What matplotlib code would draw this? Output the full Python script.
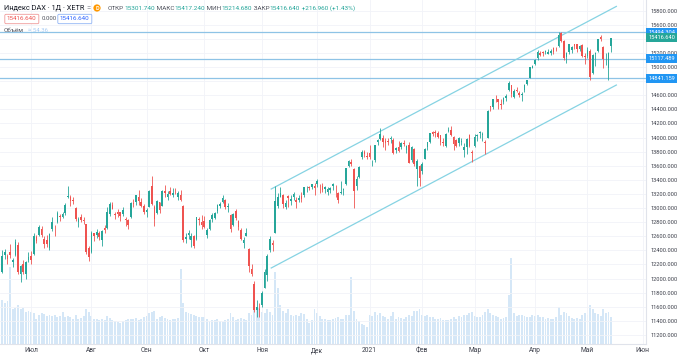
import matplotlib.pyplot as plt
import pandas as pd
from matplotlib.transforms import blended_transform_factory

plt.rcParams['font.family'] = ['Roboto', 'DejaVu Sans']

# daily DAX candles, 16 Jun 2020 .. 14 May 2021
opens = [
    # Jun
    12100, 12330, 12320, 12370, 12240, 12330, 12480, 12070, 12210, 12060, 12270,
    # Jul
    12320, 12350, 12590, 12620, 12700, 12560, 12540, 12440, 12700, 12700, 12800, 12880,
    12880, 12930, 13150, 13150, 13110, 13000, 12800, 12880, 12830, 12770, 12440,
    # Aug
    12370, 12640, 12620, 12640, 12540, 12720, 12720, 12920, 13050, 12920, 12940, 12940,
    12910, 12850, 12830, 12870, 13070, 13080, 13160, 13090, 13030,
    # Sep
    12950, 13020, 13320, 13010, 12930, 13080, 13030, 13240, 13160, 13240, 13190, 13260,
    13150, 13190, 13030, 12560, 12620, 12550, 12600, 12560, 12840, 12800,
    # Oct
    12810, 12620, 12700, 12840, 12860, 12960, 13030, 13090, 13120, 13020, 12900, 12760,
    12960, 12820, 12690, 12500, 12600, 12420, 12130, 11920, 11560, 11560,
    # Nov
    11620, 11870, 12050, 12400, 12500, 12650, 13030, 13160, 13190, 13010, 13170, 13100,
    13160, 13110, 13120, 13170, 13190, 13280, 13300, 13300, 13310,
    # Dec
    13340, 13320, 13310, 13270, 13230, 13260, 13310, 13300, 13220, 13220, 13260, 13340,
    13590, 13660, 13560, 13310, 13440, 13720, 13800, 13740,
    # Jan
    13780, 13650, 13680, 13930, 13980, 13990, 13950, 13940, 13980, 13960, 13820, 13860,
    13860, 13920, 13830, 13890, 13680, 13840, 13560, 13590,
    # Feb
    13520, 13700, 13860, 13930, 14080, 14080, 14060, 14030, 13930, 13880, 14100, 14110,
    14010, 13960, 13920, 13930, 13830, 13870, 14030, 13800,
    # Mar
    13880, 14020, 14070, 14030, 13930, 14000, 14440, 14440, 14570, 14540, 14480, 14500,
    14560, 14680, 14740, 14580, 14670, 14630, 14600, 14680, 14760, 14850, 14990,
    # Apr
    15050, 15130, 15200, 15210, 15220, 15180, 15200, 15270, 15260, 15300, 15480, 15370,
    15140, 15210, 15240, 15320, 15320, 15250, 15310, 15160,
    # May
    15160, 15230, 14920, 15190, 15230, 15430, 15290, 15150, 14980, 15302,
]
highs = [
    12400, 12420, 12350, 12490, 12290, 12560, 12520, 12190, 12270, 12250, 12370,
    12390, 12640, 12620, 12760, 12740, 12600, 12620, 12650, 12870, 12760, 12960, 12920,
    12950, 13070, 13310, 13180, 13160, 13020, 12870, 12910, 12870, 12780, 12460,
    12680, 12650, 12700, 12670, 12690, 12760, 13010, 13080, 13080, 12940, 12980, 12950,
    13010, 12880, 12850, 13080, 13130, 13190, 13250, 13140, 13060,
    13000, 13250, 13460, 13040, 13110, 13090, 13250, 13330, 13240, 13300, 13290, 13290,
    13240, 13250, 13050, 12640, 12690, 12640, 12620, 12880, 12880, 12900,
    12890, 12720, 12840, 12930, 12950, 13060, 13080, 13180, 13130, 13070, 12910, 12930,
    12990, 12830, 12720, 12590, 12720, 12430, 12200, 11960, 11700, 11660,
    11830, 12130, 12350, 12600, 12540, 13310, 13220, 13300, 13200, 13110, 13190, 13180,
    13230, 13150, 13190, 13230, 13300, 13310, 13320, 13340, 13360,
    13410, 13340, 13360, 13320, 13300, 13300, 13360, 13330, 13230, 13390, 13290, 13570,
    13680, 13700, 13570, 13450, 13600, 13820, 13820, 13790,
    13900, 13680, 13900, 13980, 14130, 14030, 13990, 14000, 14020, 13990, 13870, 13950,
    13940, 13960, 13900, 13930, 13880, 13850, 13690, 13610,
    13650, 13850, 13940, 14070, 14100, 14110, 14090, 14040, 13990, 14060, 14150, 14160,
    14020, 13980, 14010, 13990, 13920, 13990, 14050, 13830,
    14050, 14050, 14090, 14080, 13960, 14390, 14450, 14550, 14600, 14550, 14540, 14570,
    14620, 14800, 14750, 14690, 14710, 14660, 14640, 14760, 14820, 15000, 15030,
    15110, 15240, 15230, 15230, 15240, 15250, 15260, 15290, 15290, 15500, 15500, 15380,
    15210, 15330, 15300, 15330, 15330, 15310, 15330, 15200,
    15280, 15250, 15190, 15210, 15400, 15460, 15300, 15200, 15210, 15417,
]
lows = [
    12080, 12280, 12200, 12290, 12160, 12320, 12070, 11950, 12060, 11990, 12230,
    12200, 12340, 12500, 12610, 12590, 12440, 12450, 12400, 12680, 12600, 12790, 12810,
    12860, 12900, 13140, 13030, 13060, 12810, 12730, 12800, 12780, 12350, 12250,
    12360, 12530, 12580, 12550, 12460, 12650, 12700, 12890, 12980, 12850, 12880, 12820,
    12890, 12740, 12710, 12860, 13020, 13040, 13050, 13010, 12920,
    12880, 13020, 13050, 12750, 12920, 12930, 13030, 13150, 13110, 13180, 13160, 13200,
    13120, 13100, 12520, 12500, 12560, 12450, 12430, 12550, 12760, 12700,
    12720, 12570, 12690, 12800, 12840, 12930, 13000, 13070, 12990, 12950, 12660, 12740,
    12830, 12690, 12540, 12440, 12600, 12100, 12040, 11530, 11450, 11450,
    11600, 11860, 11970, 12380, 12390, 12650, 13000, 13150, 13000, 12990, 13020, 13050,
    13120, 13000, 13080, 13080, 13160, 13230, 13260, 13270, 13180,
    13300, 13220, 13230, 13220, 13190, 13220, 13260, 13160, 13070, 13200, 13180, 13330,
    13580, 13600, 13000, 13250, 13430, 13700, 13730, 13700,
    13700, 13590, 13650, 13900, 13970, 13870, 13830, 13900, 13920, 13770, 13780, 13790,
    13840, 13880, 13780, 13640, 13660, 13600, 13320, 13310,
    13480, 13690, 13830, 13920, 14020, 14010, 13990, 13900, 13880, 13870, 14080, 14020,
    13830, 13860, 13880, 13900, 13720, 13760, 13870, 13660,
    13860, 13950, 14000, 13950, 13760, 13990, 14380, 14400, 14510, 14400, 14410, 14480,
    14520, 14660, 14580, 14560, 14640, 14580, 14520, 14650, 14740, 14840, 14990,
    15030, 15100, 15160, 15150, 15180, 15180, 15170, 15180, 15230, 15290, 15350, 15100,
    15060, 15190, 15200, 15260, 15210, 15230, 15140, 15040,
    15130, 14820, 14900, 15010, 15210, 15370, 14990, 15030, 14820, 15215,
]
closes = [
    12315, 12382, 12281, 12331, 12262, 12523, 12093, 12178, 12089, 12232, 12311,
    12260, 12608, 12528, 12733, 12616, 12494, 12489, 12633, 12800, 12697, 12930, 12874,
    12919, 13046, 13171, 13104, 13103, 12838, 12839, 12835, 12822, 12379, 12313,
    12647, 12600, 12660, 12591, 12674, 12687, 12947, 13058, 12993, 12901, 12920, 12881,
    12977, 12830, 12765, 13067, 13062, 13190, 13096, 13033, 12945,
    12974, 13243, 13057, 12842, 13100, 12968, 13237, 13209, 13202, 13193, 13218, 13255,
    13208, 13116, 12542, 12594, 12643, 12607, 12469, 12871, 12826, 12761,
    12731, 12689, 12828, 12906, 12928, 13042, 13051, 13138, 13018, 13028, 12704, 12909,
    12854, 12736, 12558, 12543, 12646, 12177, 12064, 11561, 11598, 11556,
    11789, 12089, 12324, 12568, 12480, 13096, 13163, 13217, 13053, 13077, 13139, 13134,
    13201, 13087, 13137, 13127, 13292, 13290, 13286, 13336, 13291,
    13383, 13313, 13253, 13299, 13271, 13278, 13340, 13296, 13114, 13223, 13263, 13566,
    13667, 13631, 13246, 13418, 13588, 13790, 13761, 13719,
    13727, 13652, 13892, 13968, 14050, 13937, 13925, 13939, 13989, 13788, 13848, 13815,
    13922, 13906, 13874, 13643, 13871, 13620, 13666, 13433,
    13622, 13835, 13933, 14060, 14057, 14059, 14012, 13933, 13921, 14050, 14109, 14034,
    13909, 13887, 13994, 13950, 13865, 13976, 13879, 13786,
    14012, 14039, 14080, 14056, 13921, 14380, 14437, 14540, 14569, 14502, 14461, 14557,
    14596, 14775, 14621, 14657, 14662, 14610, 14621, 14749, 14818, 14996, 15008,
    15107, 15212, 15176, 15203, 15234, 15215, 15234, 15209, 15251, 15460, 15368, 15129,
    15196, 15320, 15280, 15296, 15249, 15292, 15155, 15136,
    15236, 14856, 15171, 15197, 15400, 15400, 15120, 15151, 15200, 15417,
]
volumes = [
    165, 155, 160, 290, 130, 135, 145, 130, 135, 120, 125,
    120, 115, 95, 110, 115, 113, 105, 107, 105, 110, 103, 105,
    120, 100, 105, 100, 95, 107, 95, 97, 105, 130, 120,
    105, 95, 93, 90, 95, 90, 105, 97, 90, 85, 83, 80,
    87, 90, 95, 93, 95, 97, 90, 93, 103,
    105, 115, 120, 125, 95, 100, 105, 97, 95, 90, 93, 95,
    97, 280, 155, 120, 115, 113, 110, 105, 103, 101,
    100, 95, 85, 90, 90, 93, 85, 83, 90, 93, 115, 100,
    90, 93, 97, 95, 90, 115, 110, 140, 130, 135,
    120, 115, 130, 120, 110, 271, 211, 145, 125, 115, 130, 110,
    105, 110, 105, 115, 113, 95, 80, 90, 130,
    115, 105, 95, 93, 90, 90, 95, 97, 100, 95, 93, 107,
    110, 253, 125, 95, 85, 75, 70, 65,
    110, 105, 120, 110, 115, 105, 100, 95, 105, 120, 95, 100,
    97, 95, 103, 110, 105, 125, 123, 130,
    110, 105, 107, 103, 100, 95, 93, 97, 90, 90, 90, 93,
    100, 95, 105, 103, 107, 110, 115, 120,
    105, 100, 103, 107, 120, 130, 115, 110, 105, 100, 95, 97,
    100, 185, 324, 115, 105, 110, 107, 105, 100, 103, 110,
    105, 110, 100, 103, 95, 97, 95, 93, 100, 140, 107, 120,
    115, 105, 97, 93, 97, 95, 110, 115,
    110, 145, 130, 115, 113, 105, 130, 115, 120, 100,
]

month_names = ['Июл', 'Авг', 'Сен', 'Окт', 'Ноя', 'Дек', '2021',
               'Фев', 'Мар', 'Апр', 'Май', 'Июн']
levels = [15494.304, 15117.489, 14841.159]
last_price = 15416.640
# parallel channel drawn on the chart (bar index, price)
channel_x = [102.5, 234.0]
channel_upper = [13270, 15860]
channel_lower = [12150, 14745]

# Xetra trading calendar
holidays = pd.to_datetime(['2020-12-24', '2020-12-25', '2020-12-31',
                           '2021-01-01', '2021-04-02', '2021-04-05'])
days = pd.bdate_range('2020-06-16', '2021-06-30')
days = days[~days.isin(holidays)]
month_ticks = [i for i in range(1, len(days)) if days[i].month != days[i - 1].month][:12]

n = len(closes)
idx = list(range(n))
up, down = '#26a69a', '#ef5350'
cols = [up if c >= o else down for o, c in zip(opens, closes)]
bottoms = [min(o, c) for o, c in zip(opens, closes)]
heights = [max(abs(c - o), 7) for o, c in zip(opens, closes)]

W, H = 681, 359
fig = plt.figure(figsize=(W / 100, H / 100), dpi=100)
rect = [0, 15 / H, 646 / W, 344 / H]
xlim = (-0.84, 245.3)

# volume pane underneath
ax_v = fig.add_axes(rect)
ax_v.bar(idx, volumes, width=0.72, color='#d5e7f7', linewidth=0)
ax_v.set_xlim(*xlim)
ax_v.set_ylim(0, 1290)
ax_v.set_yticks([])
ax_v.set_xticks([])
for s in ax_v.spines.values():
    s.set_visible(False)

ax = fig.add_axes(rect)
ax.patch.set_visible(False)
ax.set_xlim(*xlim)
ax.set_ylim(11072, 15951)

ax.vlines(idx, lows, highs, colors=cols, linewidth=0.6, zorder=3)
ax.bar(idx, heights, bottom=bottoms, width=0.62, color=cols, linewidth=0, zorder=3)

for v in levels:
    ax.axhline(v, color='#8ec3e6', linewidth=0.9, zorder=2)
ax.plot(channel_x, channel_upper, color='#86d3e3', linewidth=0.9, zorder=2)
ax.plot(channel_x, channel_lower, color='#86d3e3', linewidth=0.9, zorder=2)

yt = list(range(11200, 15801, 200))
ax.set_yticks(yt)
# 15400 and 14800 sit under the price boxes
ax.set_yticklabels(['' if v in (15400, 14800) else f'{v:.3f}' for v in yt])
ax.yaxis.tick_right()
ax.set_xticks(month_ticks)
ax.set_xticklabels(month_names)
ax.tick_params(axis='y', length=0, pad=3.2, labelsize=4.1, labelcolor='#3c3f4a')
ax.tick_params(axis='x', length=0, pad=2.5, labelsize=4.8, labelcolor='#3c3f4a')
ax.grid(True, color='#f1f3f8', linewidth=0.6, zorder=0)
for k in ['top', 'left']:
    ax.spines[k].set_visible(False)
ax.spines['right'].set_color('#e0e3eb')
ax.spines['bottom'].set_color('#e0e3eb')
ax.spines['right'].set_linewidth(0.8)
ax.spines['bottom'].set_linewidth(0.8)

# price labels on the scale
tr = blended_transform_factory(ax.transAxes, ax.transData)
for v in levels:
    ax.text(1.0035, v, f'{v:.3f}', transform=tr, fontsize=4.1, color='white',
            va='center', ha='left', clip_on=False, zorder=10,
            bbox=dict(boxstyle='square,pad=0.35', fc='#2196f3', ec='none'))
ax.text(1.0035, last_price, f'{last_price:.3f}', transform=tr, fontsize=4.1,
        color='white', va='center', ha='left', clip_on=False, zorder=11,
        bbox=dict(boxstyle='square,pad=0.35', fc='#26a69a', ec='none'))

# legend header
r = fig.canvas.get_renderer()


def put(x, y, s, **kw):
    t = fig.text(x / W, 1 - y / H, s, va='center', ha='left', **kw)
    return x + t.get_window_extent(r).width


put(4, 8, 'Индекс DAX · 1Д · XETR', fontsize=5.3, color='#131722')
fig.text(89 / W, 1 - 8 / H, '=', fontsize=5.5, color='#787b86', va='center', ha='center')
fig.text(97 / W, 1 - 8 / H, 'D', fontsize=4.0, color='white', va='center', ha='center',
         fontweight='bold',
         bbox=dict(boxstyle='circle,pad=0.2', fc='#ff9800', ec='none'))
x = 108
parts = [('ОТКР', '#50535e'), ('15301.740', up), (' МАКС', '#50535e'), ('15417.240', up),
         (' МИН', '#50535e'), ('15214.680', up), (' ЗАКР', '#50535e'), ('15416.640', up),
         (' +216.960 (+1.43%)', up)]
for s, c in parts:
    x = put(x, 8, s, fontsize=4.6, color=c)

fig.text(7 / W, 1 - 19 / H, '15416.640', fontsize=4.5, color=down, va='center', ha='left',
         bbox=dict(boxstyle='round,pad=0.35,rounding_size=0.2', fc='white', ec='#ef9a9a', lw=0.6))
fig.text(42 / W, 1 - 19 / H, '0.000', fontsize=4.3, color='#50535e', va='center', ha='left')
fig.text(60 / W, 1 - 19 / H, '15416.640', fontsize=4.5, color='#2962ff', va='center', ha='left',
         bbox=dict(boxstyle='round,pad=0.35,rounding_size=0.2', fc='white', ec='#90b4f5', lw=0.6))
x = put(4, 31, 'Объём', fontsize=4.6, color='#50535e')
put(x + 4, 31, '≈ 54.36', fontsize=4.3, color='#a9cdf5')

fig.savefig('out.png', dpi=100)
